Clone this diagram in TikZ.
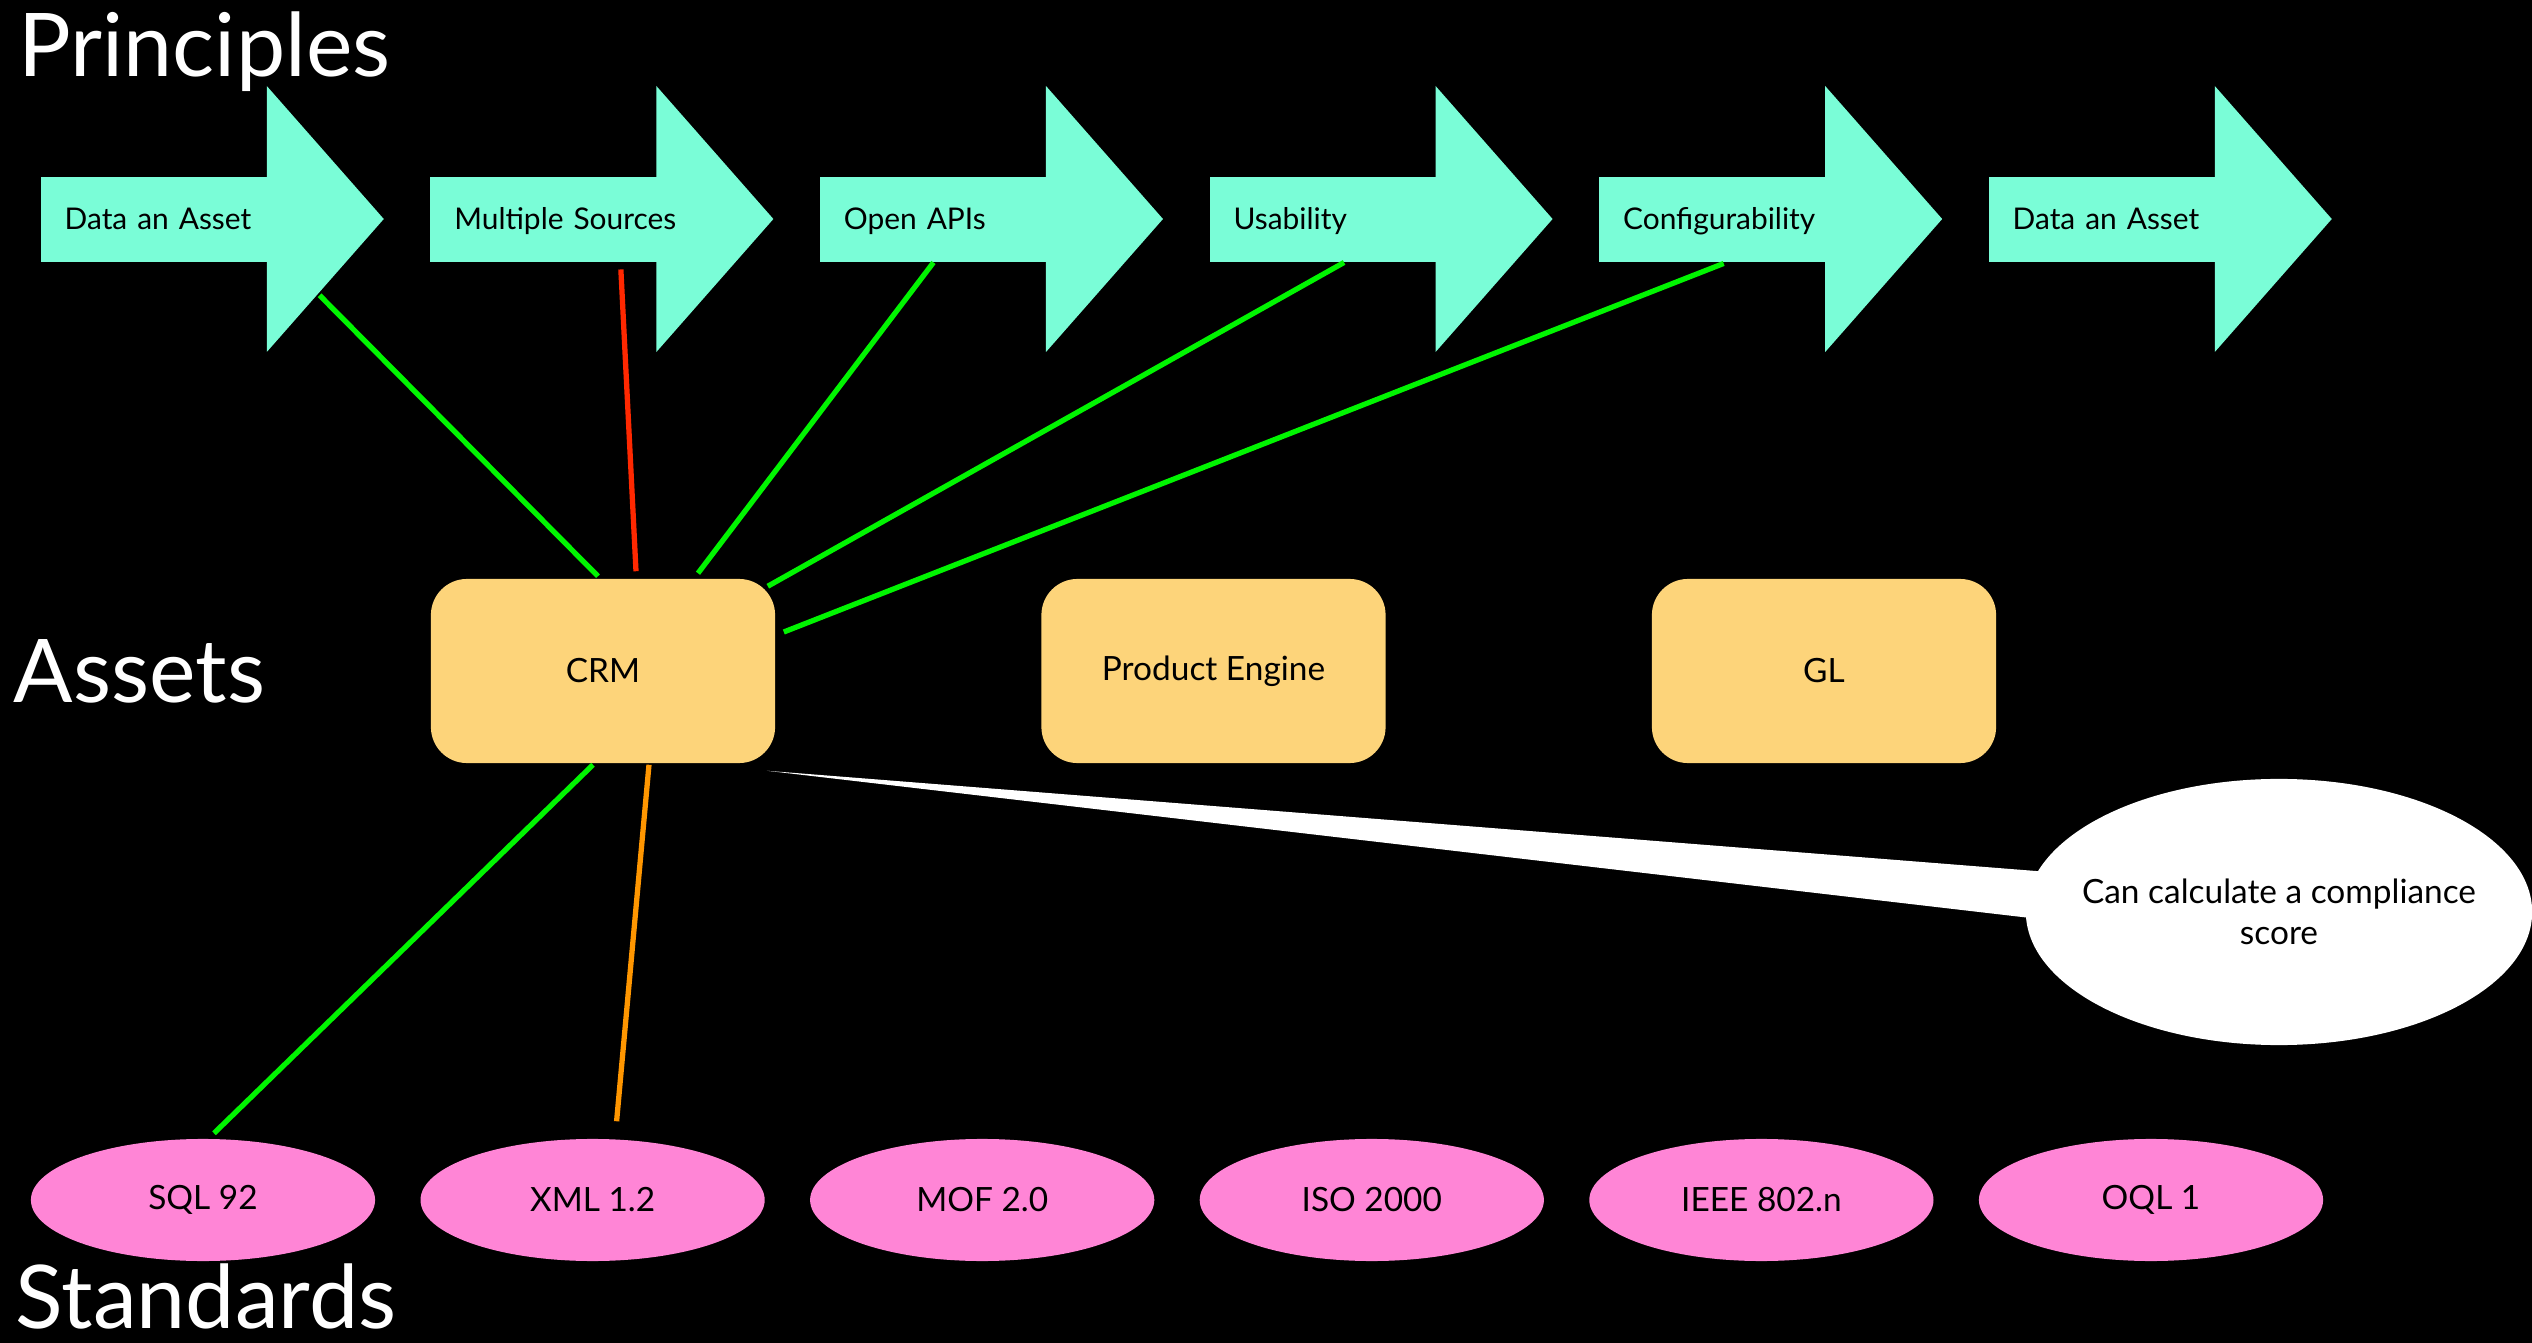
\documentclass[tikz,border=0pt]{standalone}
\usepackage{fontspec}
\setmainfont{Lato}
\usetikzlibrary{shapes.geometric,calc,backgrounds}

\begin{document}
\begin{tikzpicture}[x=0.01cm, y=-0.01cm,
    heading/.style={anchor=base west, inner sep=0pt, text=white, font=\fontsize{25}{30}\selectfont},
    principle/.style={fill=principlecol, anchor=north west, inner xsep=0.24cm, inner ysep=0pt,
        text width=1.79cm, minimum height=0.85cm, align=left, text height=0.2cm, text depth=0pt,
        font=\fontsize{8.5}{10}\selectfont},
    asset/.style={fill=assetcol, rounded corners=0.36cm, minimum width=3.44cm, minimum height=1.84cm,
        font=\fontsize{9.5}{11}\selectfont},
    standard/.style={ellipse, fill=standardcol, inner sep=0pt, minimum width=3.44cm, minimum height=1.22cm,
        font=\fontsize{9.5}{11}\selectfont},
    note/.style={ellipse, fill=white, inner xsep=-0.3cm, inner ysep=0pt, minimum width=5.06cm, minimum height=2.66cm,
        align=center, font=\fontsize{9.5}{11.7}\selectfont},
    link/.style={line width=1.5pt}]
    % Slide colours
    \definecolor{principlecol}{RGB}{122, 253, 215}  % Aquamarine arrows
    \definecolor{assetcol}{RGB}{253, 212, 122}      % Soft orange boxes
    \definecolor{standardcol}{RGB}{255, 133, 214}   % Pink ellipses
    \definecolor{fitgreen}{RGB}{0, 245, 0}
    \definecolor{misfitred}{RGB}{255, 40, 0}
    \definecolor{partorange}{RGB}{255, 150, 0}

    \useasboundingbox (0,0) rectangle (2532,1343);

    % Row headings
    \node[heading] (principles) at (18,77) {Principles};
    \node[heading] (assets) at (13,703) {Assets};
    \node[heading] (standards) at (15,1328) {Standards};

    % Principle arrows - shaft is the node, head drawn from its corners
    \node[principle] (p1) at (40,176) {\mbox{Data an Asset}};
    \node[principle] (p2) at (429.6,176) {\mbox{Multiple Sources}};
    \node[principle] (p3) at (819.2,176) {\mbox{Open APIs}};
    \node[principle] (p4) at (1208.8,176) {\mbox{Usability}};
    \node[principle] (p5) at (1598.4,176) {\mbox{Configurability}};
    \node[principle] (p6) at (1988,176) {\mbox{Data an Asset}};

    % Assets
    \node[asset] (crm) at (603,671) {CRM};
    \node[asset] (engine) at (1213.5,671) {Product Engine};
    \node[asset] (gl) at (1824,671) {GL};

    % Standards
    \node[standard] (s1) at (203,1200) {SQL 92};
    \node[standard] (s2) at (592.6,1200) {XML 1.2};
    \node[standard] (s3) at (982.2,1200) {MOF 2.0};
    \node[standard] (s4) at (1371.8,1200) {ISO 2000};
    \node[standard] (s5) at (1761.4,1200) {IEEE 802.n};
    \node[standard] (s6) at (2151,1200) {OQL 1};

    % Callout
    \node[note] (score) at (2279,912) {Can calculate a compliance\\score};

    % Black slide, arrow heads and callout pointer go behind the nodes
    \begin{pgfonlayer}{background}
        \fill[black] (0,0) rectangle (2532,1343);
        \fill[principlecol] ([xshift=-0.5pt]p1.north east) -- ++(0,-90) -- ++(117,133) -- ++(-117,133) -- ([xshift=-0.5pt]p1.south east) -- cycle;
        \fill[principlecol] ([xshift=-0.5pt]p2.north east) -- ++(0,-90) -- ++(117,133) -- ++(-117,133) -- ([xshift=-0.5pt]p2.south east) -- cycle;
        \fill[principlecol] ([xshift=-0.5pt]p3.north east) -- ++(0,-90) -- ++(117,133) -- ++(-117,133) -- ([xshift=-0.5pt]p3.south east) -- cycle;
        \fill[principlecol] ([xshift=-0.5pt]p4.north east) -- ++(0,-90) -- ++(117,133) -- ++(-117,133) -- ([xshift=-0.5pt]p4.south east) -- cycle;
        \fill[principlecol] ([xshift=-0.5pt]p5.north east) -- ++(0,-90) -- ++(117,133) -- ++(-117,133) -- ([xshift=-0.5pt]p5.south east) -- cycle;
        \fill[principlecol] ([xshift=-0.5pt]p6.north east) -- ++(0,-90) -- ++(117,133) -- ++(-117,133) -- ([xshift=-0.5pt]p6.south east) -- cycle;
        \fill[white] ($(crm.south east)+(-9,7)$) -- ($(score.west)+(74,-36)$) -- ($(score.west)+(74,14)$) -- cycle;
    \end{pgfonlayer}

    % Links between principles, CRM and standards
    \draw[link, fitgreen] ($(p1.east)+(51,76)$) -- ($(crm.north)+(-5,-2)$);
    \draw[link, misfitred] ($(p2.south)+(77,7)$) -- ($(crm.north)+(33,-7)$);
    \draw[link, fitgreen] (p3.south) -- ($(crm.north)+(95,-5)$);
    \draw[link, fitgreen] ($(p4.south)+(21,0)$) -- ($(crm.north east)+(-8,8)$);
    \draw[link, fitgreen] ($(p5.south)+(11,1)$) -- ($(crm.east)+(8,-39)$);
    \draw[link, fitgreen] ($(crm.south)+(-10,1)$) -- ($(s1.north)+(11,-5)$);
    \draw[link, partorange] ($(crm.south)+(46,1)$) -- ($(s2.north)+(24,-17)$);

\end{tikzpicture}
\end{document}
